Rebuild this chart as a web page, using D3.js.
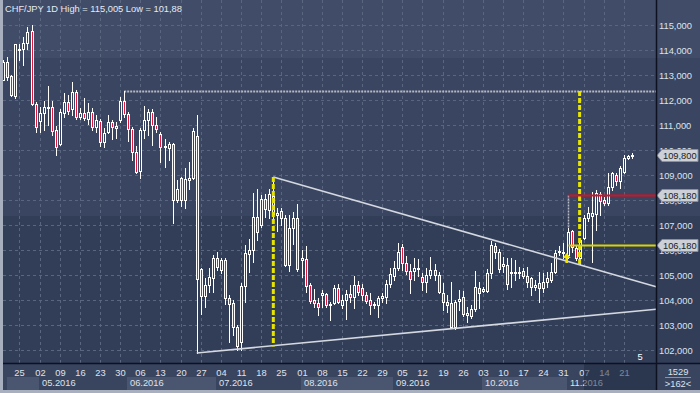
<!DOCTYPE html>
<html><head><meta charset="utf-8">
<script src="https://cdn.jsdelivr.net/npm/d3@7"></script>
<style>html,body{margin:0;padding:0;background:#323d58;overflow:hidden}svg{display:block}</style>
</head><body><svg id="c" width="700" height="393"></svg>
<script>
// ---------- data ----------
const title = "CHF/JPY 1D High = 115,005 Low = 101,88";
const startDate = "2016-04-19"; // first trading day shown (weekdays only)
const open = [112.80,113.51,112.96,112.16,114.00,114.03,114.29,114.76,111.83,111.17,111.49,111.71,111.71,110.80,110.24,111.49,111.93,111.63,112.33,111.31,111.47,111.24,111.51,110.93,111.17,110.33,110.71,111.11,110.96,111.22,111.96,111.43,110.84,109.91,109.16,110.80,111.20,111.51,111.00,110.63,110.16,110.09,110.23,108.00,108.89,108.00,108.80,108.87,110.57,105.24,104.17,104.60,104.89,105.67,105.20,105.60,104.09,103.89,102.91,102.33,104.56,105.83,106.00,107.33,106.98,108.04,107.60,108.16,107.40,107.56,107.29,105.40,106.87,107.27,105.60,105.64,104.60,104.00,103.89,104.20,104.23,103.80,103.87,104.47,103.80,104.00,104.23,104.13,104.60,104.49,104.20,104.00,103.80,103.80,104.09,104.13,104.63,104.97,105.27,106.13,105.47,105.16,105.16,105.24,104.93,104.73,105.00,105.20,105.00,104.27,103.93,103.87,102.93,103.96,104.13,103.40,103.37,103.64,104.49,104.36,104.36,105.07,106.17,105.91,105.37,105.40,105.07,105.07,105.09,105.17,104.97,104.87,104.53,104.67,104.49,104.73,104.80,105.13,105.91,105.87,105.80,106.76,106.09,105.67,106.47,107.27,107.36,107.44,108.24,108.00,107.87,108.53,109.00,108.77,109.13,109.67,109.76];
const high = [113.60,113.71,113.00,114.25,114.24,114.53,114.93,115.005,111.93,111.73,111.97,112.56,111.97,110.96,111.63,112.29,112.20,112.71,112.40,111.68,112.07,111.87,111.67,111.40,111.23,110.87,111.40,111.20,111.13,112.13,112.36,111.53,110.93,110.17,110.89,111.77,111.64,111.64,111.33,110.73,110.44,110.31,110.27,108.80,108.93,109.27,109.51,110.87,111.40,105.30,104.89,105.27,105.80,105.93,105.67,105.67,104.20,104.00,103.00,104.67,106.20,106.44,108.27,108.44,108.20,108.23,108.44,108.92,107.69,107.67,107.40,107.40,107.53,107.83,106.00,106.17,104.67,104.44,104.07,104.40,104.27,103.93,104.60,104.63,104.20,104.40,104.60,104.95,104.76,104.63,104.33,104.27,103.93,104.17,104.27,104.80,105.27,105.56,106.27,106.23,105.77,105.43,105.69,105.64,105.07,105.27,105.73,105.43,105.13,104.67,104.20,104.73,104.00,104.40,104.36,103.73,103.80,105.16,104.73,104.53,105.24,106.36,106.27,106.04,105.73,105.69,105.67,105.60,105.33,105.27,105.33,104.93,104.80,105.13,105.07,105.13,105.47,106.00,106.17,106.27,106.87,106.80,106.20,106.50,107.40,107.73,108.33,108.40,108.33,108.11,109.07,109.13,109.09,109.36,109.80,109.81,109.89];
const low = [112.78,112.80,112.16,112.08,113.60,113.40,114.04,111.80,110.73,110.73,110.80,111.00,110.60,109.80,110.20,111.33,111.44,111.40,111.23,111.24,111.20,111.04,110.80,110.73,110.16,110.13,110.67,110.43,110.47,111.13,111.33,110.36,109.60,109.07,108.89,110.49,110.60,110.20,110.73,109.51,109.33,109.60,107.07,107.93,107.77,107.67,108.44,108.84,101.88,103.43,103.73,104.31,104.33,105.20,105.07,103.83,102.33,102.60,102.00,102.00,103.93,105.11,105.53,106.40,106.93,107.33,107.27,107.30,106.76,107.00,105.37,105.16,106.23,105.16,104.90,104.31,103.87,103.73,103.40,103.73,103.73,103.20,103.83,103.87,103.67,103.24,103.93,103.67,104.20,104.00,103.87,103.43,103.67,103.33,103.93,103.87,104.53,104.80,105.20,105.20,105.03,104.27,104.80,104.96,104.40,104.33,104.87,104.80,104.27,103.60,103.53,102.89,102.84,103.60,103.37,103.13,103.27,103.56,103.67,104.33,104.33,104.89,105.67,105.13,105.13,104.44,104.53,104.80,104.87,104.89,104.53,104.20,104.40,103.93,104.33,104.53,104.71,105.07,105.80,105.67,105.67,105.93,105.60,105.45,106.43,107.17,105.53,106.80,107.40,107.80,107.80,108.40,108.60,108.47,109.07,109.63,109.67];
const close = [113.53,112.93,112.20,114.23,114.04,114.29,114.73,111.83,110.91,111.47,111.71,111.69,110.77,110.11,111.51,111.93,111.57,112.33,111.31,111.47,111.27,111.51,110.93,111.20,110.33,110.67,111.11,110.91,110.88,111.95,111.43,110.84,109.91,109.13,110.80,111.20,111.53,111.00,110.84,110.13,110.11,110.23,108.00,108.44,108.00,108.84,108.87,110.76,104.84,104.17,104.60,104.93,105.67,105.33,105.60,104.09,103.83,102.91,102.17,104.56,105.87,106.00,107.33,106.73,108.04,107.64,108.23,107.45,107.47,107.27,105.40,106.87,107.27,105.24,105.67,104.57,103.96,103.87,103.73,104.27,103.80,103.84,104.47,103.91,104.00,104.23,104.13,104.60,104.33,104.20,103.96,103.80,103.84,104.07,104.17,104.63,105.03,105.27,105.93,105.47,105.16,104.84,105.29,105.30,104.71,105.00,105.20,105.00,104.33,103.93,103.80,102.93,103.93,104.04,103.43,103.47,103.64,104.53,104.27,104.44,105.07,106.20,105.91,105.24,105.43,104.63,105.11,105.13,105.13,104.97,104.73,104.53,104.60,104.47,104.73,104.87,105.13,105.87,105.96,105.93,106.73,106.13,105.67,106.40,107.27,107.49,107.49,108.27,107.97,107.87,108.53,109.07,108.77,109.27,109.67,109.76,109.80];
const yTicks = [102,103,104,105,106,107,108,109,110,111,112,113,114,115];
const tagValues = [109.80, 108.18, 106.18];
// drawing objects (index units on the time axis, price on the value axis)
const resistanceIdx = 30;                         // high whose level is extended (dotted)
const upperTrend = [[67,108.92],[162,104.53]];
const lowerTrend = [[48,101.88],[162,103.63]];
const yellowV = [[67,108.92,102.14],[143,112.36,105.41]];
const signalIdx = 140;
const redLevel = 108.18, yellowLevel = 106.18;
const arrowPos = [139.8, 105.88];
const cornerTexts = ["1529", ">162<"];
const sideNote = "5";

// ---------- layout ----------
const svg = d3.select("#c");
const n = open.length;
const plotL = 3, plotR = 656, plotB = 363;
const xi = d3.scaleLinear().domain([0, n - 1]).range([3.3, 632]);
const y = d3.scaleLinear().domain([102, 115]).range([350, 25]);
const FONT = "'Liberation Sans', Arial, sans-serif";

// trading days
const dates = [];
{ let d = new Date(startDate + "T12:00:00Z");
  while (dates.length < n) { const wd = d.getUTCDay(); if (wd !== 0 && wd !== 6) dates.push(new Date(d)); d = new Date(d.getTime() + 86400000); } }

// background bands
const bands = [[0, 58, "#414c68"], [58, 216, "#3a4561"], [216, 363, "#323d58"]];
bands.forEach(b => svg.append("rect").attr("x", 0).attr("y", b[0]).attr("width", 700).attr("height", b[1] - b[0]).attr("fill", b[2]));

// grid
const g = svg.append("g");
yTicks.forEach(v => g.append("line").attr("x1", plotL).attr("x2", plotR).attr("y1", Math.round(y(v)) + 0.5).attr("y2", Math.round(y(v)) + 0.5)
  .attr("stroke", "#5a6580").attr("stroke-dasharray", "3,3"));
const mondays = d3.range(n).filter(i => dates[i].getUTCDay() === 1);
mondays.forEach(i => g.append("line").attr("x1", Math.round(xi(i)) + 0.5).attr("x2", Math.round(xi(i)) + 0.5).attr("y1", 0).attr("y2", plotB)
  .attr("stroke", "#5a6580").attr("stroke-dasharray", "3,3"));

// resistance dotted level
svg.append("line").attr("x1", xi(resistanceIdx)).attr("x2", plotR).attr("y1", Math.round(y(high[resistanceIdx])) + 0.5).attr("y2", Math.round(y(high[resistanceIdx])) + 0.5)
  .attr("stroke", "#b4b8c4").attr("stroke-width", 2).attr("stroke-dasharray", "2,1");

// candles
const cg = svg.append("g");
for (let i = 0; i < n; i++) {
  const px = Math.round(xi(i));
  const bull = close[i] >= open[i];
  cg.append("line").attr("x1", px + 0.5).attr("x2", px + 0.5).attr("y1", Math.round(y(high[i]))).attr("y2", Math.round(y(low[i])) + 1)
    .attr("stroke", "#ffffff").attr("stroke-width", 1);
  const t = Math.round(y(Math.max(open[i], close[i]))), b = Math.round(y(Math.min(open[i], close[i])));
  cg.append("rect").attr("x", px - 0.5).attr("y", t + 0.5).attr("width", 2).attr("height", Math.max(b - t, 1))
    .attr("fill", bull ? "#34405c" : "#e3173c").attr("stroke", "#ffffff").attr("stroke-width", 1);
}

// trend lines
[upperTrend, lowerTrend].forEach(t => svg.append("line").attr("x1", xi(t[0][0])).attr("y1", y(t[0][1])).attr("x2", xi(t[1][0])).attr("y2", y(t[1][1]))
  .attr("stroke", "#d4d8e0").attr("stroke-width", 1.6));

// yellow verticals
yellowV.forEach(v => svg.append("line").attr("x1", xi(v[0])).attr("x2", xi(v[0])).attr("y1", y(v[1])).attr("y2", y(v[2]))
  .attr("stroke", "#e6e400").attr("stroke-width", 3).attr("stroke-dasharray", "5,2"));

// signal lines
const sx = Math.round(xi(signalIdx)) + 0.5;
svg.append("line").attr("x1", sx).attr("x2", sx).attr("y1", y(redLevel)).attr("y2", y(high[signalIdx]))
  .attr("stroke", "#b4b8c4").attr("stroke-width", 1.5).attr("stroke-dasharray", "2,1");
svg.append("line").attr("x1", sx).attr("x2", plotR).attr("y1", y(redLevel)).attr("y2", y(redLevel)).attr("stroke", "#d81020").attr("stroke-width", 2);
svg.append("line").attr("x1", sx).attr("x2", plotR).attr("y1", y(yellowLevel)).attr("y2", y(yellowLevel)).attr("stroke", "#d8d400").attr("stroke-width", 2);

// arrow
{ const ax = xi(arrowPos[0]), ay = y(arrowPos[1]);
  svg.append("path").attr("d", `M${ax},${ay} L${ax + 4},${ay + 5} L${ax + 1.3},${ay + 5} L${ax + 1.3},${ay + 10} L${ax - 1.3},${ay + 10} L${ax - 1.3},${ay + 5} L${ax - 4},${ay + 5} Z`)
    .attr("fill", "#f2e600"); }

// title
svg.append("text").attr("x", 5).attr("y", 12).attr("fill", "#e6eaf2").attr("font-family", FONT).attr("font-size", 9.3).text(title);
svg.append("text").attr("x", 640).attr("y", 360).attr("text-anchor", "middle").attr("fill", "#ffffff").attr("font-family", FONT).attr("font-size", 9.3).text(sideNote);

// ---------- axes panels ----------
// bottom axis
svg.append("rect").attr("x", 0).attr("y", plotB).attr("width", 700).attr("height", 30).attr("fill", "#39445f");
const months = [];
for (let i = 0; i < n; i++) if (i === 0 || dates[i].getUTCMonth() !== dates[i - 1].getUTCMonth()) months.push(i);
months.forEach((m, j) => {
  const x0 = j === 0 ? 7 : Math.round(xi(m)) - 1;
  const x1 = j < months.length - 1 ? Math.round(xi(months[j + 1])) - 1 : plotR;
  if (j % 2 === 0) svg.append("rect").attr("x", x0).attr("y", 377).attr("width", x1 - x0).attr("height", 13).attr("fill", "#4a5570");
  if (x1 - x0 > 45) svg.append("text").attr("x", x0 + 3).attr("y", 386).attr("fill", "#dfe3ec").attr("font-family", FONT).attr("font-size", 9.3)
    .text(d3.utcFormat("%m.%Y")(dates[m]));
});
mondays.forEach(i => svg.append("text").attr("x", Math.round(xi(i)) + 0.5).attr("y", 375.5).attr("text-anchor", "middle").attr("fill", "#dfe3ec")
  .attr("font-family", FONT).attr("font-size", 9.3).text(d3.utcFormat("%d")(dates[i])));
svg.append("rect").attr("x", 584).attr("y", plotB + 1).attr("width", plotR - 584).attr("height", 26).attr("fill", "#1e2740").attr("opacity", 0.5);

// right axis labels
const fmt = v => d3.format(".3f")(v).replace(".", ",");
yTicks.forEach(v => svg.append("text").attr("x", 659).attr("y", y(v) + 3.5).attr("fill", "#dfe3ec").attr("font-family", FONT).attr("font-size", 9.3).text(fmt(v)));
tagValues.forEach(v => {
  const ty = Math.round(y(v)) + 0.5;
  svg.append("path").attr("d", `M${plotR + 1},${ty} L${plotR + 6},${ty - 6} L698,${ty - 6} L698,${ty + 6} L${plotR + 6},${ty + 6} Z`)
    .attr("fill", "#cdd0d6").attr("stroke", "#8a909c").attr("stroke-width", 1);
  svg.append("text").attr("x", 663).attr("y", ty + 3.5).attr("fill", "#1a1c22").attr("font-family", FONT).attr("font-size", 9.3).text(fmt(v));
});

// frame lines
svg.append("line").attr("x1", 0).attr("x2", 700).attr("y1", plotB + 0.5).attr("y2", plotB + 0.5).attr("stroke", "#0e1220").attr("stroke-width", 1.5);
svg.append("line").attr("x1", plotR + 0.5).attr("x2", plotR + 0.5).attr("y1", 0).attr("y2", 393).attr("stroke", "#0e1220").attr("stroke-width", 1.5);
svg.append("rect").attr("x", 0).attr("y", 0).attr("width", 3).attr("height", 393).attr("fill", "#a8b0c0");
svg.append("rect").attr("x", 0).attr("y", 390).attr("width", 700).attr("height", 3).attr("fill", "#a8b0c0");
svg.append("text").attr("x", 678).attr("y", 375).attr("text-anchor", "middle").attr("fill", "#dfe3ec").attr("font-family", FONT).attr("font-size", 9.3).text(cornerTexts[0]);
svg.append("line").attr("x1", 665).attr("x2", 691).attr("y1", 377.5).attr("y2", 377.5).attr("stroke", "#8a93a8");
svg.append("text").attr("x", 678).attr("y", 387).attr("text-anchor", "middle").attr("fill", "#dfe3ec").attr("font-family", FONT).attr("font-size", 9.3).text(cornerTexts[1]);
</script></body></html>
